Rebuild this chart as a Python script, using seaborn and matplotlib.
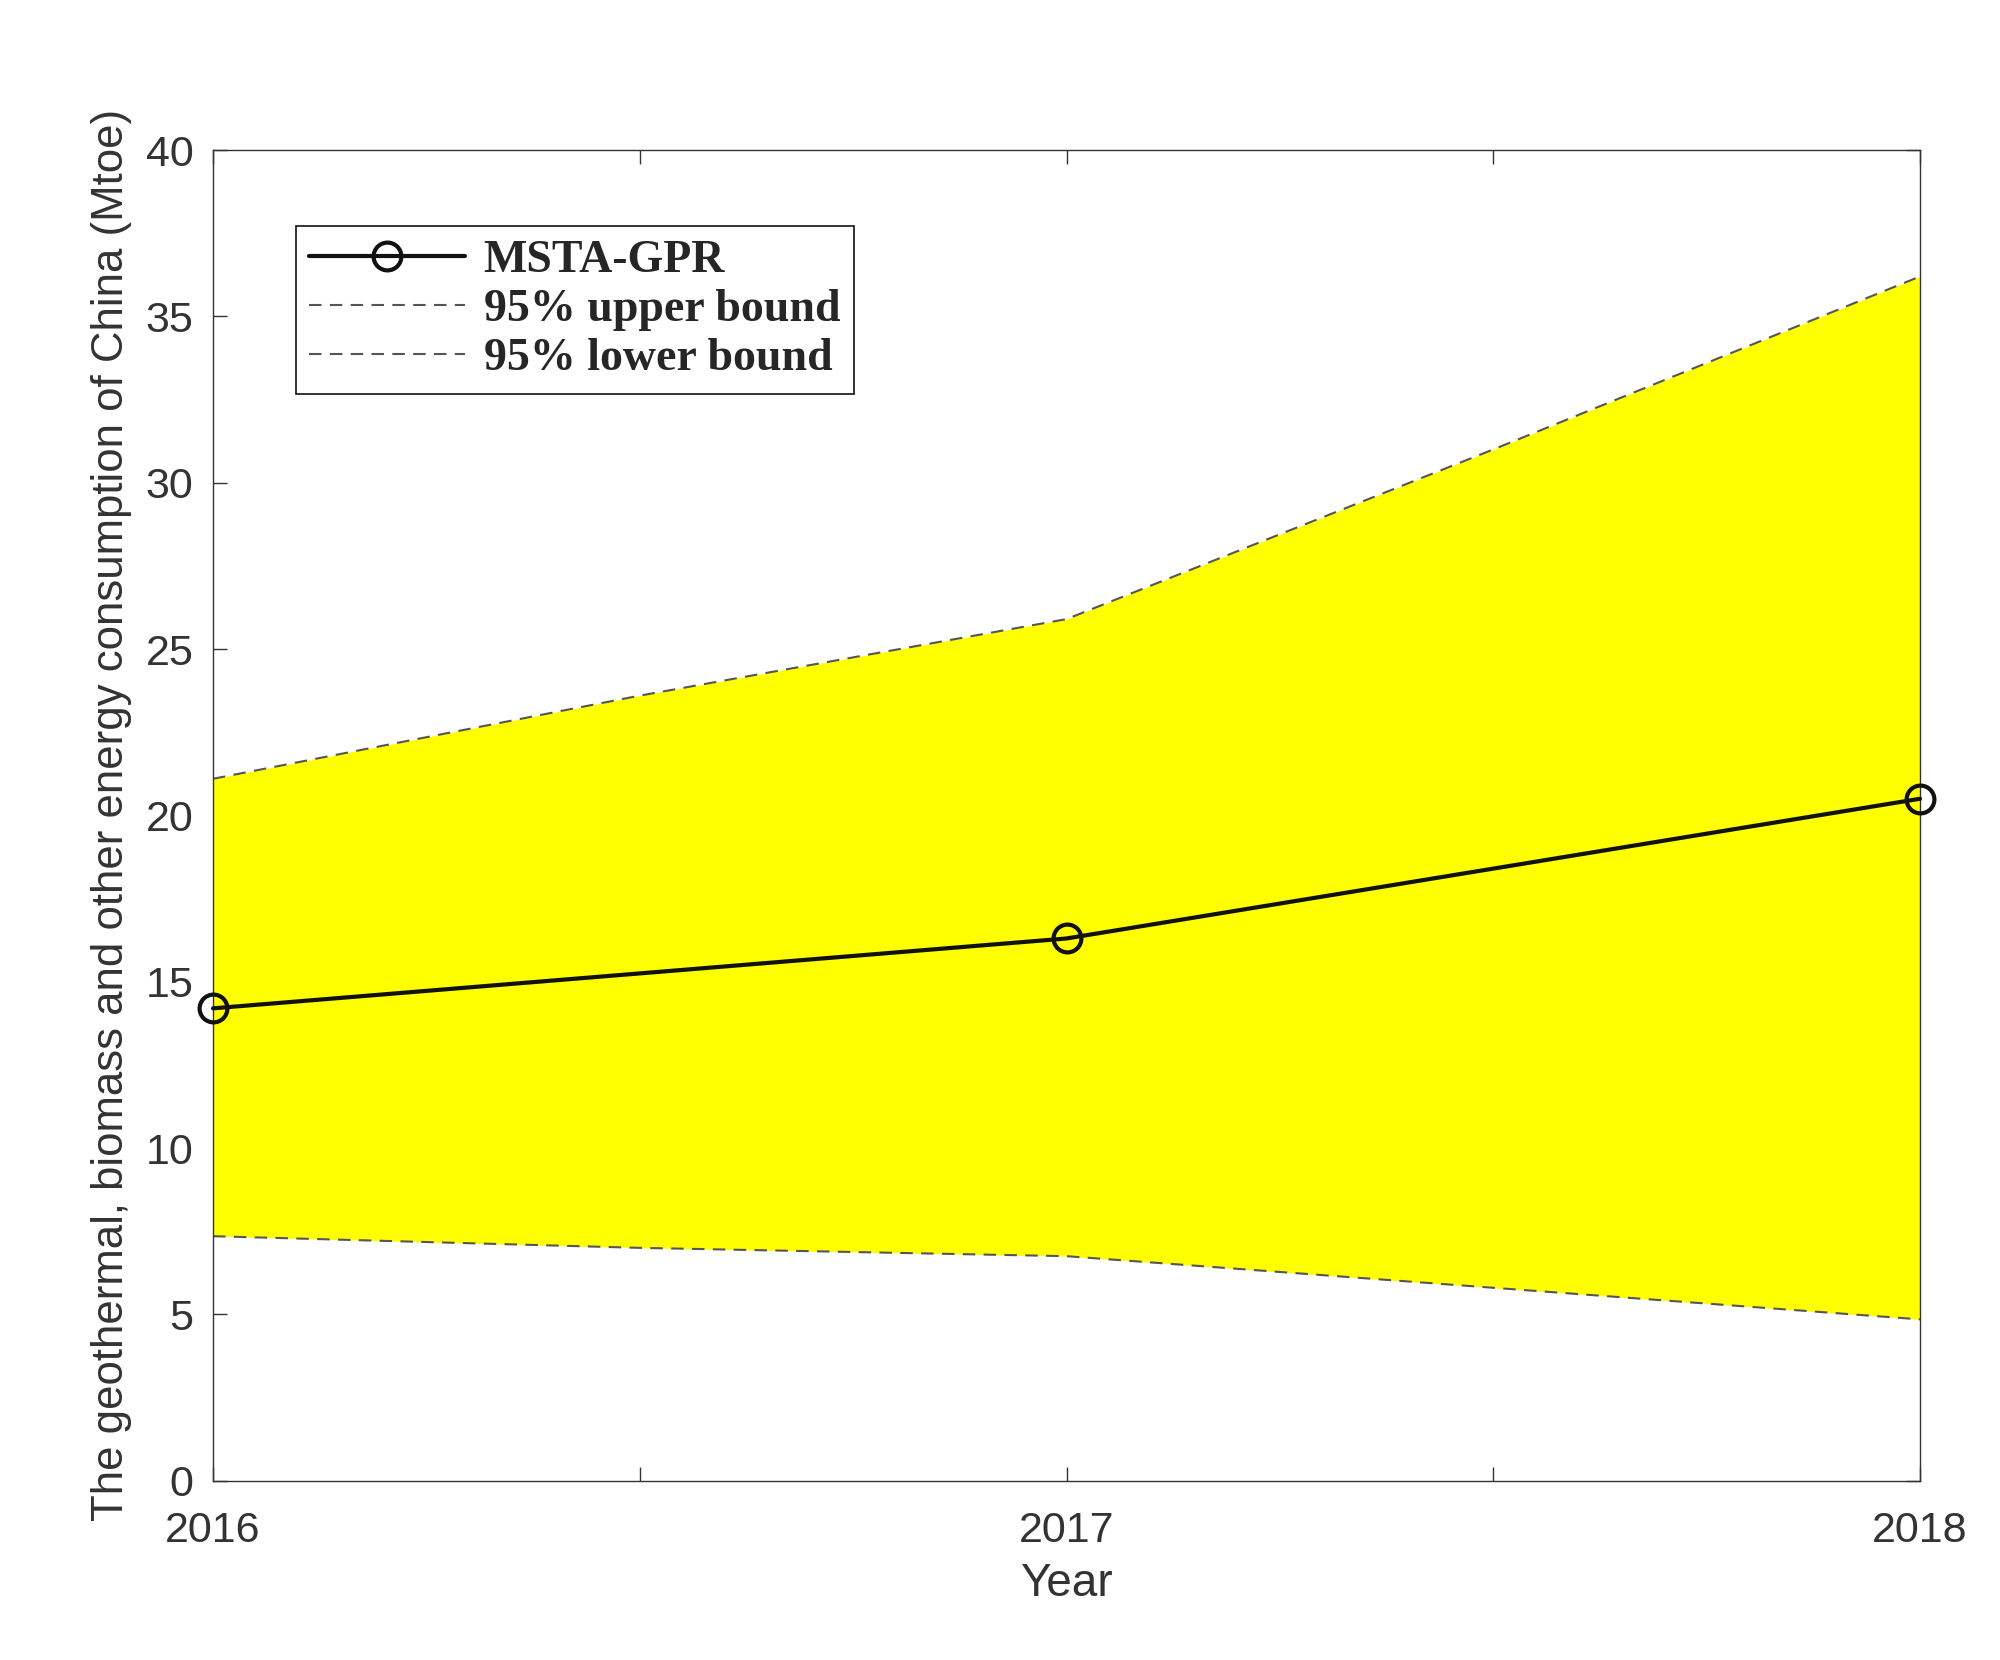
import matplotlib
matplotlib.use("Agg")
import matplotlib.pyplot as plt
import seaborn as sns
import pandas as pd

# Values
years = [2016, 2016.5, 2017, 2017.5, 2018]
upper = [21.1, 23.6, 25.9, 31.0, 36.2]
lower = [7.35, 7.0, 6.75, 5.8, 4.85]
pred_years = [2016, 2017, 2018]
pred = [14.2, 16.3, 20.5]

sns.set_style("ticks")
plt.rcParams['font.family'] = ['Liberation Sans', 'DejaVu Sans']

fig = plt.figure(figsize=(20, 16.6), dpi=100)
ax = fig.add_axes([0.1065, 0.108, 0.8535, 0.8016])

ax.fill_between(years, lower, upper, color='#ffff00', linewidth=0)
bounds = pd.DataFrame({'Year': years, 'upper': upper, 'lower': lower})
sns.lineplot(data=bounds, x='Year', y='upper', ax=ax, color='#555555',
             linestyle=(0, (6, 4)), linewidth=1.5, label='95% upper bound')
sns.lineplot(data=bounds, x='Year', y='lower', ax=ax, color='#555555',
             linestyle=(0, (6, 4)), linewidth=1.5, label='95% lower bound')
pdf = pd.DataFrame({'Year': pred_years, 'v': pred})
sns.lineplot(data=pdf, x='Year', y='v', ax=ax, color='#111111', linewidth=3,
             marker='o', markersize=20, markerfacecolor='none',
             markeredgewidth=3, markeredgecolor='#111111', label='MSTA-GPR',
             clip_on=False, zorder=5)

ax.set_xlim(2016, 2018)
ax.set_ylim(0, 40)
ax.set_xticks([2016, 2016.5, 2017, 2017.5, 2018])
ax.set_xticklabels(['2016', '', '2017', '', '2018'])
ax.set_yticks(range(0, 41, 5))
ax.tick_params(direction='in', length=10, width=1, labelsize=31,
               top=True, right=True, colors='#333333')
ax.tick_params(axis='x', pad=22)
ax.tick_params(axis='y', pad=14)
for s in ax.spines.values():
    s.set_color('#333333')
    s.set_linewidth(1)
ax.set_xlabel('Year', fontsize=33, color='#333333', labelpad=8)
ax.set_ylabel('The geothermal, biomass and other energy consumption of China (Mtoe)',
              fontsize=31.5, color='#333333', labelpad=10)

h, l = ax.get_legend_handles_labels()
order = [l.index('MSTA-GPR'), l.index('95% upper bound'), l.index('95% lower bound')]
leg = ax.legend([h[i] for i in order], [l[i] for i in order], loc='upper left',
                bbox_to_anchor=(0.035, 0.96), fancybox=False, edgecolor='#111111',
                framealpha=1, handlelength=3.4, labelspacing=0.15, borderpad=0.3,
                handletextpad=0.4,
                prop={'family': 'Liberation Serif', 'weight': 'bold', 'size': 33})
leg.get_frame().set_linewidth(1.2)

fig.savefig('out.png', dpi=100)
